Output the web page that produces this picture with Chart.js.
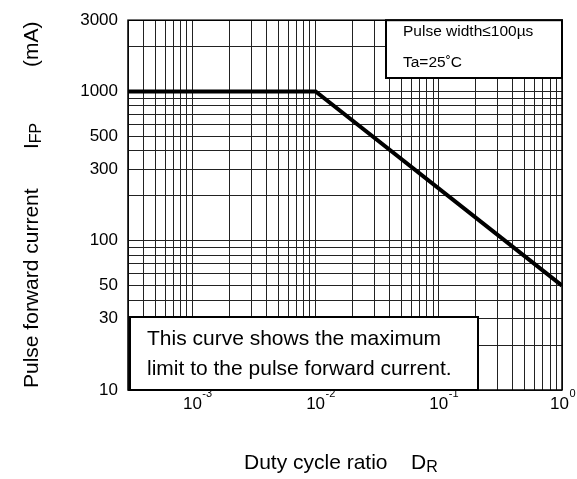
<!DOCTYPE html>
<html><head><meta charset="utf-8">
<script src="https://cdn.jsdelivr.net/npm/chart.js@4.4.1/dist/chart.umd.min.js"></script>
<style>html,body{margin:0;padding:0;background:#fff}#wrap{width:577px;height:479px}</style>
</head><body><div id="wrap"><canvas id="c" width="577" height="479"></canvas></div>
<script>
// Data
const dutyRatio = [0.0003, 0.01, 1];
const pulseCurrent = [1000, 1000, 50];

// Tick / grid values
const xGridValues = [0.0003, 0.0004, 0.0005, 0.0006, 0.0007, 0.0008, 0.0009,
  0.001, 0.002, 0.003, 0.004, 0.005, 0.006, 0.007, 0.008, 0.009,
  0.01, 0.02, 0.03, 0.04, 0.05, 0.06, 0.07, 0.08, 0.09,
  0.1, 0.2, 0.3, 0.4, 0.5, 0.6, 0.7, 0.8, 0.9, 1];
const xLabelValues = [0.001, 0.01, 0.1, 1];
const xLabelExponents = ['-3', '-2', '-1', '0'];
const yGridValues = [10, 20, 30, 40, 50, 60, 70, 80, 90,
  100, 200, 300, 400, 500, 600, 700, 800, 900,
  1000, 2000, 3000];
const yLabelValues = [10, 30, 50, 100, 300, 500, 1000, 3000];

const noteTop = ['Pulse width\u2264100\u00b5s', 'Ta=25\u02daC'];
const noteBottom = ['This curve shows the maximum', 'limit to the pulse forward current.'];

const FONT = "'Liberation Sans', Arial, sans-serif";

const decor = {
  id: 'decor',
  afterDraw(chart) {
    const ctx = chart.ctx;
    const a = chart.chartArea;
    const xs = chart.scales.x;
    ctx.save();
    // frame
    ctx.strokeStyle = '#000';
    ctx.lineWidth = 1.5;
    ctx.strokeRect(a.left, a.top, a.right - a.left, a.bottom - a.top);

    // x tick labels 10^n
    ctx.fillStyle = '#000';
    ctx.textBaseline = 'middle';
    xLabelValues.forEach((v, i) => {
      let px = xs.getPixelForValue(v);
      ctx.font = '17px ' + FONT;
      const w = ctx.measureText('10').width;
      ctx.font = '11px ' + FONT;
      const ew = ctx.measureText(xLabelExponents[i]).width;
      const overflow = px + w / 2 + ew + 1 - (chart.width - 1);
      if (overflow > 0) px -= overflow;
      ctx.font = '17px ' + FONT;
      ctx.textAlign = 'center';
      ctx.fillText('10', px, a.bottom + 14);
      ctx.font = '11px ' + FONT;
      ctx.textAlign = 'left';
      ctx.fillText(xLabelExponents[i], px + w / 2 + 0.5, a.bottom + 4);
    });

    // x title
    ctx.font = '21px ' + FONT;
    ctx.textAlign = 'left';
    ctx.fillText('Duty cycle ratio', 244, 463);
    ctx.fillText('D', 411, 463);
    const dW = ctx.measureText('D').width;
    ctx.font = '16px ' + FONT;
    ctx.fillText('R', 411 + dW, 468);

    // y title (rotated)
    ctx.save();
    ctx.translate(32, 0);
    ctx.rotate(-Math.PI / 2);
    ctx.font = '21px ' + FONT;
    ctx.textAlign = 'left';
    ctx.fillText('Pulse forward current', -388, 0);
    ctx.fillText('I', -149, 0);
    const iW = ctx.measureText('I').width;
    ctx.font = '16px ' + FONT;
    ctx.fillText('FP', -149 + iW, 5);
    ctx.font = '21px ' + FONT;
    ctx.fillText('(mA)', -67, 0);
    ctx.restore();

    // top-right note box
    const tb = {l: 386, t: a.top, r: a.right, b: 78};
    ctx.fillStyle = '#fff';
    ctx.fillRect(tb.l, tb.t, tb.r - tb.l, tb.b - tb.t);
    ctx.lineWidth = 2;
    ctx.strokeStyle = '#000';
    ctx.strokeRect(tb.l, tb.t, tb.r - tb.l, tb.b - tb.t);
    ctx.fillStyle = '#000';
    ctx.font = '15.5px ' + FONT;
    ctx.textBaseline = 'middle';
    ctx.fillText(noteTop[0], 403, 32);
    ctx.fillText(noteTop[1], 403, 63);

    // bottom-left note box
    const bb = {l: a.left + 2, t: 317, r: 478, b: a.bottom};
    ctx.fillStyle = '#fff';
    ctx.fillRect(bb.l, bb.t, bb.r - bb.l, bb.b - bb.t);
    ctx.strokeRect(bb.l, bb.t, bb.r - bb.l, bb.b - bb.t);
    ctx.fillStyle = '#000';
    ctx.font = '21px ' + FONT;
    ctx.fillText(noteBottom[0], 147, 339);
    ctx.fillText(noteBottom[1], 147, 369);
    ctx.restore();
  }
};

new Chart(document.getElementById('c'), {
  type: 'scatter',
  data: {
    datasets: [{
      data: dutyRatio.map((x, i) => ({x: x, y: pulseCurrent[i]})),
      showLine: true,
      borderColor: '#000',
      backgroundColor: '#000',
      borderWidth: 4,
      pointRadius: 0,
      fill: false,
      tension: 0
    }]
  },
  options: {
    responsive: false,
    animation: false,
    devicePixelRatio: 1,
    layout: {padding: {left: 0, right: 15, top: 13, bottom: 0}},
    plugins: {legend: {display: false}, tooltip: {enabled: false}},
    scales: {
      x: {
        type: 'logarithmic', min: 0.0003, max: 1,
        afterBuildTicks: s => { s.ticks = xGridValues.map(v => ({value: v})); },
        afterFit: s => { s.height = 89; },
        ticks: {display: false},
        grid: {color: '#222', lineWidth: 1, drawTicks: false},
        border: {display: false}
      },
      y: {
        type: 'logarithmic', min: 10, max: 3000,
        afterBuildTicks: s => { s.ticks = yGridValues.map(v => ({value: v})); },
        afterFit: s => { s.width = 128; },
        ticks: {
          autoSkip: false, padding: 10, color: '#000',
          font: {family: FONT, size: 17},
          callback: v => yLabelValues.includes(v) ? String(v) : ''
        },
        grid: {color: '#222', lineWidth: 1, drawTicks: false},
        border: {display: false}
      }
    }
  },
  plugins: [decor]
});
</script>
</body></html>
